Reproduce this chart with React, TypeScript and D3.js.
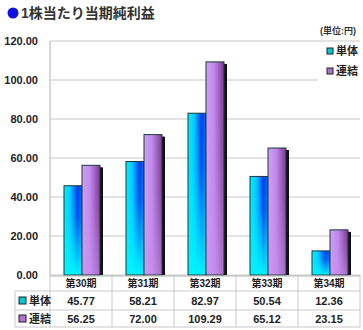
import React from "react";
import * as d3 from "d3";

const categories = ["第30期", "第31期", "第32期", "第33期", "第34期"];
const seriesNames = ["単体", "連結"];
const tantai = [45.77, 58.21, 82.97, 50.54, 12.36];
const renketsu = [56.25, 72.0, 109.29, 65.12, 23.15];
const yTicks = [0, 20, 40, 60, 80, 100, 120];

const W = 363, H = 330;
const left = 50, right = 360, top = 41, bottom = 275;

export default function App() {
  const x = d3.scaleBand<string>().domain(categories).range([left, right]);
  const inner = d3.scaleBand<string>().domain(seriesNames).range([0, 36]);
  const y = d3.scaleLinear().domain([0, 120]).range([bottom, top]);
  const fmt = d3.format(".2f");
  const font = "Arial, 'Liberation Sans', 'Noto Sans CJK JP', sans-serif";
  const series = [
    { name: seriesNames[0], values: tantai, fill: "url(#gC)", over: "url(#gCv)", sw: "#00c8d8" },
    { name: seriesNames[1], values: renketsu, fill: "url(#gP)", over: "url(#gPv)", sw: "#b070d0" },
  ];
  const rowY = [291, 310, 327];
  return (
    <svg width={W} height={H} style={{ position: "absolute", left: 0, top: 0 }}>
      <defs>
        <linearGradient id="gC" x1="0" y1="0" x2="1" y2="0">
          <stop offset="0" stopColor="#00f0ff" />
          <stop offset="0.35" stopColor="#00c8ff" />
          <stop offset="0.75" stopColor="#0038f0" />
          <stop offset="1" stopColor="#0070f8" />
        </linearGradient>
        <linearGradient id="gCv" x1="0" y1="0" x2="0" y2="1">
          <stop offset="0" stopColor="#00f0ff" stopOpacity="0" />
          <stop offset="0.35" stopColor="#00f0ff" stopOpacity="0.15" />
          <stop offset="1" stopColor="#00f4ff" stopOpacity="1" />
        </linearGradient>
        <linearGradient id="gP" x1="0" y1="0" x2="1" y2="0">
          <stop offset="0" stopColor="#d0a0f8" />
          <stop offset="0.45" stopColor="#c088ec" />
          <stop offset="1" stopColor="#7a3890" />
        </linearGradient>
        <linearGradient id="gPv" x1="0" y1="0" x2="0" y2="1">
          <stop offset="0" stopColor="#c890f0" stopOpacity="0" />
          <stop offset="0.4" stopColor="#c890f0" stopOpacity="0.1" />
          <stop offset="1" stopColor="#c890f0" stopOpacity="0.6" />
        </linearGradient>
      </defs>
      <rect width={W} height={H} fill="#fff" />
      <circle cx={13} cy={13} r={5.5} fill="#1010e0" />
      <text x={21} y={18} fontFamily={font} fontSize={14} fontWeight="bold" fill="#333">1株当たり当期純利益</text>
      {yTicks.map((t) => (
        <g key={t}>
          <line x1={left} x2={right} y1={y(t)} y2={y(t)} stroke="#c8c8c8" strokeWidth={1} />
          <text x={38} y={y(t) + 4} textAnchor="end" fontFamily={font} fontSize={11} fontWeight="bold" fill="#222">{fmt(t)}</text>
        </g>
      ))}
      <line x1={left} x2={left} y1={top} y2={bottom} stroke="#b0b0b0" />
      <rect x={318} y={44} width={42} height={40} fill="#fff" />
      <text x={356} y={34} textAnchor="end" fontFamily={font} fontSize={9} fontWeight="bold" fill="#333">(単位:円)</text>
      {series.map((s, i) => (
        <g key={s.name}>
          <rect x={327} y={48 + i * 20} width={6} height={6} fill={s.sw} stroke="#222" strokeWidth={1} />
          <text x={336} y={55 + i * 20} fontFamily={font} fontSize={11} fontWeight="bold" fill="#222">{s.name}</text>
        </g>
      ))}
      {categories.map((c, ci) => {
        const gx = (x(c) as number) + (x.bandwidth() - 36) / 2 + 1;
        return (
          <g key={c}>
            {series.map((s) => {
              const bx = gx + (inner(s.name) as number);
              const by = y(s.values[ci]);
              return <rect key={"sh" + s.name} x={bx + 3} y={by + 2} width={inner.bandwidth()} height={bottom - by - 2} fill="#111" />;
            })}
            {series.map((s) => {
              const bx = gx + (inner(s.name) as number);
              const by = y(s.values[ci]);
              return (
                <g key={s.name}>
                  <rect x={bx} y={by} width={inner.bandwidth()} height={bottom - by} fill={s.fill} />
                  <rect x={bx} y={by} width={inner.bandwidth()} height={bottom - by} fill={s.over} stroke="#1a3a3a" strokeWidth={1} />
                </g>
              );
            })}
          </g>
        );
      })}
      <line x1={left} x2={right} y1={bottom + 1} y2={bottom + 1} stroke="#b0b0b0" />
      {rowY.map((ry) => (
        <line key={ry} x1={15} x2={right} y1={ry} y2={ry} stroke="#c8c8c8" />
      ))}
      <line x1={15} x2={15} y1={291} y2={327} stroke="#c8c8c8" />
      {categories.map((c) => (
        <line key={"v" + c} x1={(x(c) as number)} x2={(x(c) as number)} y1={bottom} y2={327} stroke="#c8c8c8" />
      ))}
      <line x1={right} x2={right} y1={bottom} y2={327} stroke="#c8c8c8" />
      {categories.map((c) => (
        <text key={"h" + c} x={(x(c) as number) + x.bandwidth() / 2} y={287} textAnchor="middle" fontFamily={font} fontSize={10} fontWeight="bold" fill="#222">{c}</text>
      ))}
      {series.map((s, si) => (
        <g key={"row" + s.name}>
          <rect x={19} y={297 + si * 18} width={7} height={7} fill={s.sw} stroke="#222" strokeWidth={1} />
          <text x={29} y={305 + si * 18} fontFamily={font} fontSize={11} fontWeight="bold" fill="#222">{s.name}</text>
          {s.values.map((v, ci) => (
            <text key={ci} x={(x(categories[ci]) as number) + x.bandwidth() / 2} y={305 + si * 18} textAnchor="middle" fontFamily={font} fontSize={11} fontWeight="bold" fill="#222">{fmt(v)}</text>
          ))}
        </g>
      ))}
    </svg>
  );
}
